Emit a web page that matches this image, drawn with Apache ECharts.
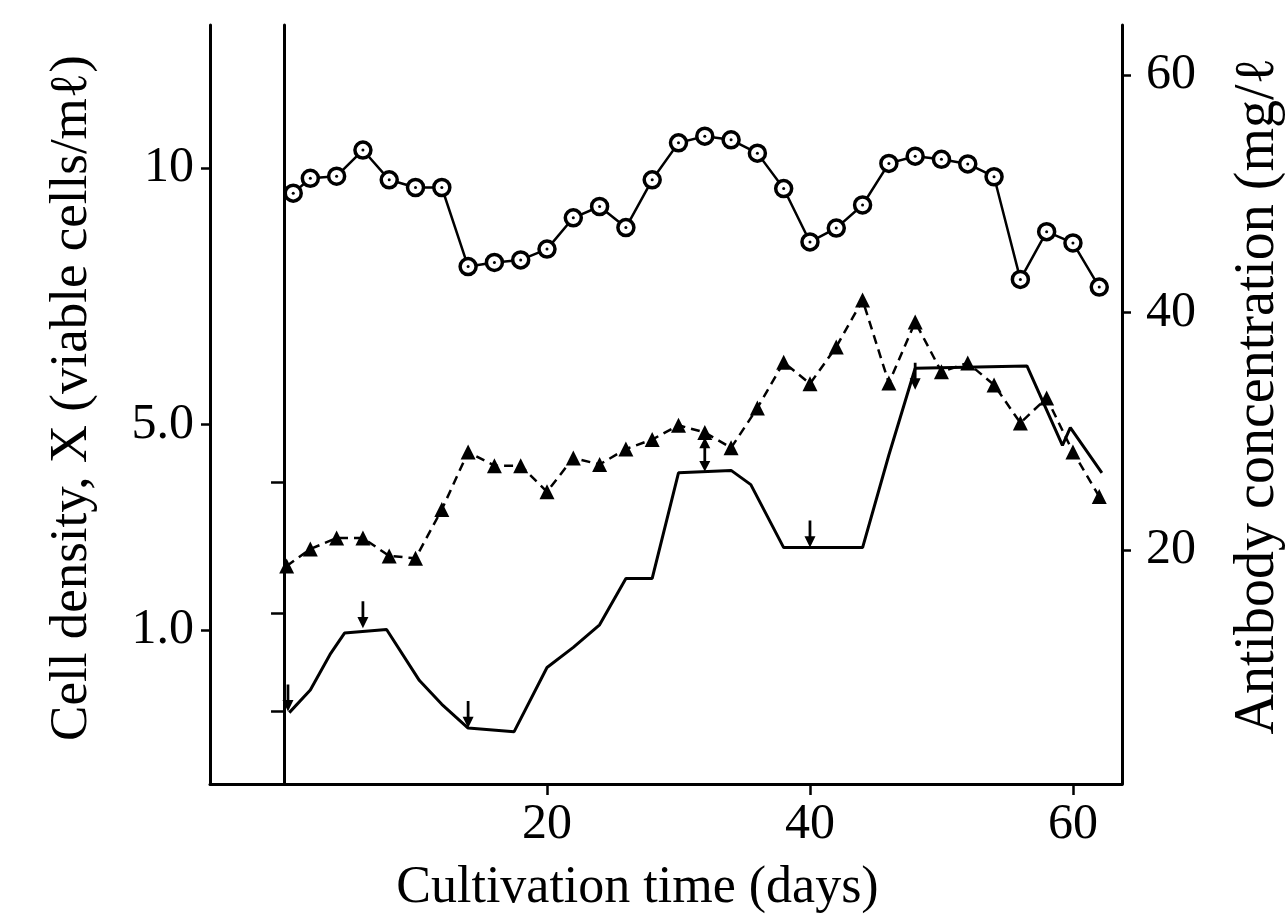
<!DOCTYPE html>
<html><head><meta charset="utf-8">
<script src="https://cdn.jsdelivr.net/npm/echarts@6/dist/echarts.min.js"></script>
<style>html,body{margin:0;padding:0;background:#fff}#c{width:1285px;height:917px}</style>
</head><body><div id="c"></div>
<script>
// ---- data ----
var circleDays = [0.7,2,4,6,8,10,12,14,16,18,20,22,24,26,28,30,32,34,36,38,40,42,44,46,48,50,52,54,56,58,60,62];
var circleVals = [9.51,9.80,9.84,10.35,9.77,9.62,9.62,8.08,8.16,8.21,8.42,9.03,9.25,8.84,9.77,10.49,10.62,10.55,10.29,9.60,8.56,8.83,9.28,10.09,10.23,10.17,10.08,9.83,7.83,8.76,8.54,7.68];
var triDays = [0.2,2,4,6,8,10,12,14,16,18,20,22,24,26,28,30,32,34,36,38,40,42,44,46,48,50,52,54,56,58,60,62];
var triVals = [18.65,20.08,21.0,21.0,19.5,19.3,23.4,28.25,27.1,27.1,24.9,27.75,27.2,28.5,29.3,30.5,29.9,28.6,31.96,35.8,34.0,37.1,41.05,34.06,39.2,35.0,35.75,33.9,30.7,32.8,28.25,24.5];
var solidDays = [0.4,2,3.5,4.6,7.8,10.3,12,14,17.5,20,22,24,26,28,30,34,35.5,38,44,46,48,56.5,59.2,59.8,62.2];
var solidVals = [6.3,8.2,11.2,13.0,13.3,9.0,7.0,5.0,4.7,10.1,11.8,13.7,17.6,17.6,26.5,26.7,25.5,20.2,20.2,28,35.3,35.5,28.8,30.3,26.5];
var arrowDays = [0.3,6,14,32,40,48];
var arrowVals = [6.4,13.4,5.0,26.6,20.2,33.5];
var arrowKinds = ['down','down','down','both','down','down'];
var xTicks = [20,40,60];
var leftTicks = [1,5,10];
var leftTickLabels = {1:'1.0',5:'5.0',10:'10'};
var rightTicks = [20,40,60];
var innerTicks = [6.4,14.7,25.7];

var FONT = 'Liberation Serif';
var DOWN = 'path://M3.5,0 L6.5,0 L6.5,15 L11,15 L5,26 L-1,15 L3.5,15 Z';
var BOTH = 'path://M5,0 L11,10 L6.5,10 L6.5,22 L11,22 L5,32 L-1,22 L3.5,22 L3.5,10 L-1,10 Z';

function pairs(a,b){return a.map(function(d,i){return [d,b[i]];});}

var chart = echarts.init(document.getElementById('c'), null, {renderer:'canvas'});
var axisLine = {show:true, onZero:false, lineStyle:{color:'#000', width:3}};
chart.setOption({
  animation:false,
  backgroundColor:'#fff',
  grid:{left:210, right:163, top:25, bottom:133, containLabel:false},
  xAxis:{type:'value', min:-5.63, max:63.73,
    axisLine:axisLine, splitLine:{show:false},
    axisTick:{show:true, customValues:xTicks, length:11, lineStyle:{color:'#000',width:2.5}},
    axisLabel:{customValues:xTicks, color:'#000', fontFamily:FONT, fontSize:50, margin:16}
  },
  yAxis:[
    {type:'value', position:'left', min:-2.0, max:12.786,
      axisLine:axisLine, splitLine:{show:false},
      axisTick:{show:true, customValues:leftTicks, length:9, lineStyle:{color:'#000',width:2.5}},
      axisLabel:{customValues:leftTicks, color:'#000', fontFamily:FONT, fontSize:50, margin:16,
        padding:[8,0,0,0],
        formatter:function(v){return leftTickLabels[v]||'';}}
    },
    {type:'value', position:'right', min:0.29, max:64.21,
      axisLine:axisLine, splitLine:{show:false},
      axisTick:{show:true, customValues:rightTicks, length:9, lineStyle:{color:'#000',width:2.5}},
      axisLabel:{customValues:rightTicks, color:'#000', fontFamily:FONT, fontSize:50, margin:24}
    },
    {type:'value', position:'left', min:0.29, max:64.21,
      axisLine:{show:true, onZero:true, lineStyle:{color:'#000', width:3}}, splitLine:{show:false},
      axisTick:{show:true, customValues:innerTicks, length:13, lineStyle:{color:'#000',width:2.5}},
      axisLabel:{show:false}
    }
  ],
  graphic:[
    {type:'text', x:1285/2-5, y:888, style:{text:'Cultivation time (days)', font:'52px "Liberation Serif"', fill:'#000', textAlign:'center', textVerticalAlign:'middle'}},
    {type:'text', x:72, y:398, rotation:Math.PI/2, style:{text:'Cell density, X (viable cells/m\u2113)', font:'53px "Liberation Serif"', fill:'#000', textAlign:'center', textVerticalAlign:'middle'}},
    {type:'text', x:1258, y:396, rotation:Math.PI/2, style:{text:'Antibody concentration (mg/\u2113', font:'56px "Liberation Serif"', fill:'#000', textAlign:'center', textVerticalAlign:'middle'}}
  ],
  series:[
    {type:'line', name:'solid', xAxisIndex:0, yAxisIndex:2, data:pairs(solidDays, solidVals), showSymbol:false,
      lineStyle:{color:'#000', width:3}, z:2},
    {type:'line', name:'antibody', xAxisIndex:0, yAxisIndex:1, data:pairs(triDays, triVals),
      symbol:'triangle', symbolSize:15, itemStyle:{color:'#000'},
      lineStyle:{color:'#000', width:2.5, type:[9,6]}, z:3},
    {type:'line', name:'cells', xAxisIndex:0, yAxisIndex:0, data:pairs(circleDays, circleVals),
      symbol:'circle', symbolSize:16, itemStyle:{color:'#fff', borderColor:'#000', borderWidth:3.5},
      lineStyle:{color:'#000', width:2.5}, z:3},
    {type:'scatter', name:'cellsDot', xAxisIndex:0, yAxisIndex:0, data:pairs(circleDays, circleVals),
      symbol:'circle', symbolSize:3, itemStyle:{color:'#000', opacity:1}, z:5, silent:true},
    {type:'scatter', name:'arrows', xAxisIndex:0, yAxisIndex:2,
      data:arrowDays.map(function(d,i){return {value:[d, arrowVals[i]], symbol: arrowKinds[i]==='both'?BOTH:DOWN, symbolSize: arrowKinds[i]==='both'?[11,34]:[11,27]};}),
      symbolOffset:[0,'-50%'], itemStyle:{color:'#000', opacity:1}, z:4}
  ]
});
</script></body></html>
